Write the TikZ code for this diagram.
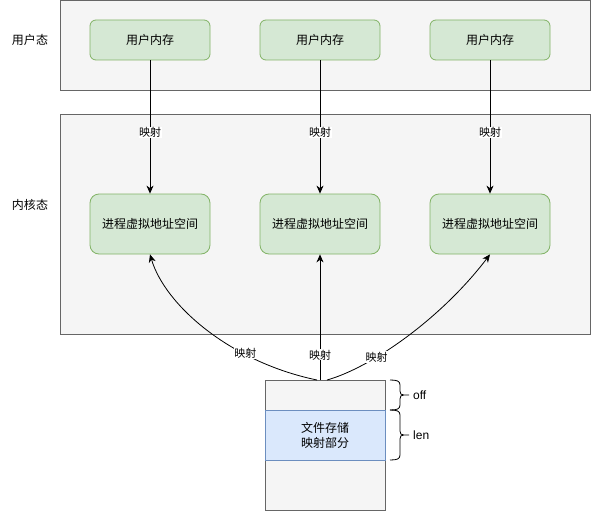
\documentclass[tikz,border=0pt]{standalone}
\usepackage{fontspec}
\setmainfont{Liberation Sans}
\newfontfamily\cjk{Noto Sans CJK SC}
\usetikzlibrary{arrows.meta}
\definecolor{panelfill}{HTML}{F5F5F5}
\definecolor{paneldraw}{HTML}{666666}
\definecolor{greenfill}{HTML}{D5E8D4}
\definecolor{greendraw}{HTML}{82B366}
\definecolor{bluefill}{HTML}{DAE8FC}
\definecolor{bluedraw}{HTML}{6C8EBF}
\tikzset{
  panel/.style={draw=paneldraw,fill=panelfill,line width=0.8pt},
  membox/.style={draw=greendraw,fill=greenfill,rounded corners=6pt,minimum width=120pt,minimum height=40pt,inner sep=0pt,font=\cjk\fontsize{12}{14}\selectfont,line width=0.8pt},
  procbox/.style={draw=greendraw,fill=greenfill,rounded corners=9pt,minimum width=120pt,minimum height=60pt,inner sep=0pt,font=\cjk\fontsize{12}{14}\selectfont,line width=0.8pt},
  statelabel/.style={font=\cjk\fontsize{12}{14}\selectfont,inner sep=0pt},
  maplabel/.style={font=\cjk\fontsize{11}{13}\selectfont,fill=white,inner sep=0.5pt},
  conn/.style={draw=black,line width=0.8pt,-{Stealth[length=8pt,width=7pt,inset=2.5pt]}},
  bracetext/.style={font=\fontsize{12}{14}\selectfont,inner sep=0pt,anchor=west},
}
\begin{document}
\begin{tikzpicture}[x=1pt,y=-1pt]
\useasboundingbox (0,0) rectangle (591,511);
% panels
\draw[panel] (60,0.5) rectangle (590,90);
\draw[panel] (60,114) rectangle (590,334);
\node[statelabel] (us) at (30,40) {用户态};
\node[statelabel] (ks) at (30,205) {内核态};
% boxes
\node[membox] (m1) at (150,40) {用户内存};
\node[membox] (m2) at (320,40) {用户内存};
\node[membox] (m3) at (490,40) {用户内存};
\node[procbox] (p1) at (150,224) {进程虚拟地址空间};
\node[procbox] (p2) at (320,224) {进程虚拟地址空间};
\node[procbox] (p3) at (490,224) {进程虚拟地址空间};
% file
\draw[panel] (265,380) rectangle (385,510);
\node[draw=bluedraw,fill=bluefill,line width=0.8pt,minimum width=120pt,minimum height=50pt,inner sep=0pt,font=\cjk\fontsize{12}{15}\selectfont,align=center] (fmap) at (325,435) {文件存储\\映射部分};
\coordinate (ftl) at (317,380);
\coordinate (ftm) at (320,380);
\coordinate (ftr) at (327,380);
% arrows top
\foreach \i in {1,2,3}{
  \draw[conn] (m\i.south) -- node[maplabel,pos=0.54] {映射} (p\i.north);
}
\draw[conn] (ftm) -- node[maplabel,pos=0.2] {映射} (p2.south);
\draw[conn] (ftl) .. controls (230,362) and (165,305) .. (p1.south) node[pos=0.3,maplabel,yshift=1pt] {映射};
\draw[conn] (ftr) .. controls (370,368) and (440,320) .. (p3.south) node[pos=0.33,maplabel] {映射};
% braces
\draw[line width=0.8pt,line join=round]
 (390,380) .. controls (397,380) and (400,381) .. (400,385) -- (400,391) .. controls (400,394) and (401,395) .. (404,395) -- (409,395)
 (390,410) .. controls (397,410) and (400,409) .. (400,405) -- (400,399) .. controls (400,396) and (401,395) .. (404,395);
\draw[line width=0.8pt,line join=round]
 (390,410) .. controls (397,410) and (400,411) .. (400,415) -- (400,431) .. controls (400,434) and (401,435) .. (404,435) -- (409,435)
 (390,460) .. controls (397,460) and (400,459) .. (400,455) -- (400,439) .. controls (400,436) and (401,435) .. (404,435);
\node[bracetext] (off) at (413,395) {off};
\node[bracetext] (len) at (413,435) {len};
\end{tikzpicture}
\end{document}
